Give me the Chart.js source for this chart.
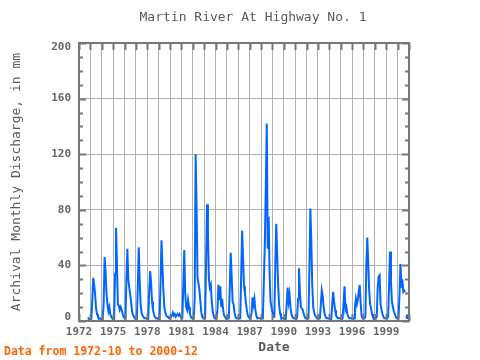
<!DOCTYPE html>
<html><head><meta charset="utf-8">
<script src="https://cdn.jsdelivr.net/npm/chart.js@4/dist/chart.umd.min.js"></script>
<style>html,body{margin:0;padding:0;background:#fff}#wrap{width:480px;height:360px}</style>
</head><body><div id="wrap"><canvas id="c" width="480" height="360"></canvas></div>
<script>
// Monthly discharge (mm), first value = 1972-10
const startYear = 1972, startMonth = 10;
const flow1970s = [
  2, 2, 1,
  1, 1, 15, 31, 26, 19, 9, 5, 3, 2, 2, 1,
  1, 1, 13, 46, 36, 20, 12, 7, 10, 5, 3, 2,
  1, 1, 34, 67, 42, 12, 11, 8, 10, 8, 5, 3,
  2, 2, 30, 52, 30, 24, 19, 13, 7, 4, 3, 2,
  1, 1, 25, 53, 29, 12, 6, 4, 3, 2, 2, 2,
  1, 1, 21, 36, 28, 14, 8, 5, 3, 2, 2, 2,
  1, 1, 29, 58, 39, 22, 10, 6, 4, 3, 3, 2
];
const flow1980s = [
  2, 2, 4, 6, 4, 5, 3, 4, 5, 4, 5, 3,
  2, 2, 26, 51, 20, 10, 8, 15, 10, 5, 3, 2,
  2, 2, 16, 120, 81, 31, 27, 22, 14, 6, 3, 2,
  2, 2, 42, 84, 62, 30, 24, 26, 14, 7, 4, 2,
  2, 2, 8, 26, 15, 25, 10, 16, 8, 4, 3, 2,
  2, 2, 2, 24, 49, 32, 14, 12, 6, 3, 2, 2,
  2, 2, 2, 32, 65, 46, 25, 20, 13, 8, 4, 3,
  2, 2, 6, 17, 12, 16, 8, 4, 2, 2, 2, 2,
  2, 2, 5, 30, 57, 96, 142, 52, 75, 34, 14, 10,
  6, 3, 3, 40, 70, 48, 26, 12, 6, 3, 2, 2
];
const flow1990s = [
  2, 1, 1, 12, 24, 14, 19, 10, 5, 3, 2, 2,
  2, 1, 3, 16, 38, 20, 10, 9, 8, 5, 3, 2,
  2, 2, 2, 39, 81, 57, 25, 10, 6, 4, 3, 2,
  2, 2, 2, 12, 22, 18, 10, 5, 3, 2, 2, 2,
  2, 1, 1, 12, 21, 14, 8, 4, 3, 2, 2, 2,
  2, 1, 2, 13, 25, 8, 10, 5, 3, 2, 2, 2,
  2, 1, 2, 10, 16, 12, 15, 21, 26, 13, 4, 2,
  2, 2, 3, 40, 60, 42, 22, 12, 9, 5, 3, 2,
  2, 2, 3, 24, 32, 33, 12, 8, 5, 3, 2, 2,
  2, 2, 3, 26, 50, 28, 14, 10, 7, 5, 3, 2
];
const flow2000 = [2, 3, 20, 41, 24, 30, 21, 22, 21, null, null, 3];

const yearTicks = [1972, 1975, 1978, 1981, 1984, 1987, 1990, 1993, 1996, 1999];
const yTicks = [0, 40, 80, 120, 160, 200];
const titleText = 'Martin River At Highway No. 1';
const yTitle = 'Archival Monthly Discharge, in mm';
const xTitle = 'Date';
const footText = 'Data from 1972-10 to 2000-12';

const values = [...flow1970s, ...flow1980s, ...flow1990s, ...flow2000];
const points = values.map((v, i) => ({ x: startYear + (startMonth - 1 + i) / 12, y: v }));

const MONO = "'DejaVu Sans Mono', monospace";
const FRAME = '#777777';

const decor = {
  id: 'decor',
  afterDraw(chart) {
    const { ctx, chartArea: a, scales } = chart;
    const xs = scales.x, ys = scales.y;
    ctx.save();
    ctx.strokeStyle = FRAME;
    ctx.lineWidth = 2;
    for (let yr = xs.min; yr <= xs.max; yr++) {
      const px = Math.round(xs.getPixelForValue(yr)) + 0.5;
      ctx.beginPath();
      ctx.moveTo(px, a.top); ctx.lineTo(px, a.top + 7);
      ctx.moveTo(px, a.bottom); ctx.lineTo(px, a.bottom - 7);
      ctx.stroke();
    }
    for (let v = ys.min; v <= ys.max; v += 10) {
      const py = Math.round(ys.getPixelForValue(v)) + 0.5;
      const len = yTicks.includes(v) ? 7 : 4;
      ctx.beginPath();
      ctx.moveTo(a.left, py); ctx.lineTo(a.left + len, py);
      ctx.moveTo(a.right, py); ctx.lineTo(a.right - len, py);
      ctx.stroke();
    }
    ctx.strokeRect(a.left, a.top, a.right - a.left, a.bottom - a.top);

    // y tick labels, kept inside the plot's vertical span
    ctx.textBaseline = 'middle';
    ctx.textAlign = 'right';
    ctx.fillStyle = '#666666';
    ctx.font = 'bold 11px ' + MONO;
    yTicks.forEach(v => {
      let py = ys.getPixelForValue(v);
      py = Math.min(Math.max(py, a.top + 4), a.bottom - 4);
      ctx.fillText(String(v), a.left - 8, py);
    });

    ctx.fillStyle = '#5a5a5a';
    ctx.font = '13px ' + MONO;
    ctx.textAlign = 'center';
    ctx.fillText(titleText, 253, 18);
    ctx.save();
    ctx.translate(17, (a.top + a.bottom) / 2);
    ctx.rotate(-Math.PI / 2);
    ctx.fillText(yTitle, 0, 0);
    ctx.restore();
    ctx.font = 'bold 13px ' + MONO;
    ctx.fillStyle = '#5a5a5a';
    ctx.fillText(xTitle, 274, 348);
    ctx.textAlign = 'left';
    ctx.fillStyle = '#ff6600';
    ctx.font = 'bold 11.5px ' + MONO;
    ctx.fillText(footText, 4, 352);
    ctx.restore();
  }
};

new Chart(document.getElementById('c'), {
  type: 'line',
  data: {
    datasets: [{
      data: points,
      borderColor: 'rgb(0,102,255)',
      backgroundColor: 'rgb(0,102,255)',
      borderWidth: 2,
      tension: 0,
      spanGaps: false,
      pointRadius: (c) => {
        const i = c.dataIndex;
        const prev = i > 0 ? values[i - 1] : null;
        const next = i < values.length - 1 ? values[i + 1] : null;
        return (values[i] !== null && prev === null && next === null) ? 2.5 : 0;
      },
      pointBorderWidth: 0
    }]
  },
  options: {
    responsive: false,
    animation: false,
    devicePixelRatio: 1,
    layout: { padding: { left: 0, right: 71, top: 43, bottom: 0 } },
    plugins: { legend: { display: false }, tooltip: { enabled: false }, title: { display: false } },
    scales: {
      x: {
        type: 'linear', min: 1972, max: 2001,
        afterFit: (s) => { s.height = 39; },
        border: { display: false },
        grid: { color: '#b0b0b0', lineWidth: 1, drawTicks: false },
        ticks: {
          stepSize: 1, autoSkip: false, maxRotation: 0, padding: 5,
          color: '#666666', font: { family: MONO, size: 11, weight: 'bold' },
          callback: (v) => yearTicks.includes(v) ? String(v) : ''
        }
      },
      y: {
        min: 0, max: 200,
        afterFit: (s) => { s.width = 79; },
        border: { display: false },
        grid: { color: '#b0b0b0', lineWidth: 1, drawTicks: false },
        ticks: {
          stepSize: 40, padding: 8,
          color: 'rgba(0,0,0,0)', font: { family: MONO, size: 11 },
          callback: (v) => yTicks.includes(v) ? String(v) : ''
        }
      }
    }
  },
  plugins: [decor]
});
</script>
</body></html>
